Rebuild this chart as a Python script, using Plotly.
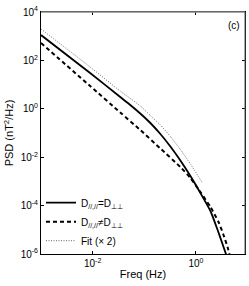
import plotly.graph_objects as go

# Data (Freq in Hz, PSD in nT^2/Hz)
freq_equal = [0.001, 0.00893, 0.0342, 0.0535, 0.0836, 0.131, 0.205, 0.320, 0.500, 0.782,
              1.22, 1.91, 2.61, 3.27, 3.91]
psd_equal = [1122, 30.1, 3.08, 1.44, 0.640, 0.259, 0.0910, 0.0277, 0.00731, 0.00167,
             3.32e-4, 5.98e-5, 1.03e-5, 2.59e-6, 8.59e-7]

freq_unequal = [0.001, 0.00893, 0.0342, 0.0836, 0.205, 0.500, 0.782, 1.22, 1.91, 2.74, 3.42, 4.09, 4.47]
psd_unequal = [524, 8.75, 0.703, 0.133, 0.0229, 0.00394, 0.00138, 3.65e-4, 8.75e-5, 2.10e-5,
               6.10e-6, 1.95e-6, 9.5e-7]

freq_fit = [0.001, 0.00893, 0.0342, 0.0836, 0.131, 0.205, 0.320, 0.500, 0.782, 1.34]
psd_fit = [1986, 53.4, 5.44, 1.31, 0.528, 0.214, 0.0716, 0.0208, 0.00524, 8.59e-4]

x_tickvals = [1e-2, 1e0]
x_ticktext = ["10<sup>-2</sup>", "10<sup>0</sup>"]
y_tickvals = [1e-6, 1e-4, 1e-2, 1e0, 1e2, 1e4]
y_ticktext = ["10<sup>-6</sup>", "10<sup>-4</sup>", "10<sup>-2</sup>", "10<sup>0</sup>", "10<sup>2</sup>", "10<sup>4</sup>"]

names = ["D<sub>//,//</sub>=D<sub>\u22a5\u22a5</sub>",
         "D<sub>//,//</sub>\u2260D<sub>\u22a5\u22a5</sub>",
         "Fit (\u00d7 2)"]

FONT = "Liberation Sans, Arial, sans-serif"

fig = go.Figure()
fig.add_trace(go.Scatter(x=freq_equal, y=psd_equal, mode="lines", name=names[0],
                         line=dict(color="black", width=1.8, shape="spline", smoothing=0.5)))
fig.add_trace(go.Scatter(x=freq_unequal, y=psd_unequal, mode="lines", name=names[1],
                         line=dict(color="black", width=2, dash="4px,3px", shape="spline", smoothing=0.5)))
fig.add_trace(go.Scatter(x=freq_fit, y=psd_fit, mode="lines", name=names[2],
                         line=dict(color="#666666", width=1, dash="1px,1.5px", shape="spline", smoothing=0.5)))

axis_common = dict(
    showline=True, linecolor="black", linewidth=1, mirror="ticks",
    ticks="inside", ticklen=3, tickcolor="black", showgrid=False, zeroline=False,
    tickfont=dict(family=FONT, size=10, color="black"),
)

fig.update_xaxes(type="log", range=[-3, 0.95], tickvals=x_tickvals, ticktext=x_ticktext,
                 title=dict(text="Freq (Hz)", font=dict(family=FONT, size=11, color="black"), standoff=2),
                 **axis_common)
fig.update_yaxes(type="log", range=[-6, 4], tickvals=y_tickvals, ticktext=y_ticktext,
                 title=dict(text="PSD (nT<sup>2</sup>/Hz)", font=dict(family=FONT, size=11, color="black"), standoff=4),
                 **axis_common)

# grey top/right frame as in the reference
fig.add_shape(type="line", xref="paper", yref="paper", x0=0, x1=1, y0=1, y1=1,
              line=dict(color="#8a8a8a", width=1.5))
fig.add_shape(type="line", xref="paper", yref="paper", x0=1, x1=1, y0=0, y1=1,
              line=dict(color="#555555", width=1))

fig.add_annotation(text="(c)", xref="paper", yref="paper", x=0.985, y=0.945,
                   xanchor="right", yanchor="middle", showarrow=False,
                   font=dict(family=FONT, size=10, color="black"))

fig.update_layout(
    width=249, height=286,
    margin=dict(l=41, r=4, t=12, b=32),
    paper_bgcolor="white", plot_bgcolor="white",
    font=dict(family=FONT, size=10, color="black"),
    legend=dict(x=0.0, y=0.272, xanchor="left", yanchor="top",
                bgcolor="rgba(0,0,0,0)", font=dict(family=FONT, size=10, color="black"),
                tracegroupgap=0, itemwidth=30),
    showlegend=True,
)

fig.write_html("out.html", config={"displayModeBar": False})

# remove the default page margin so the figure sits at the window's top-left
with open("out.html", "r", encoding="utf-8") as fh:
    html = fh.read()
html = html.replace("<head>", "<head><style>html,body{margin:0;padding:0;overflow:hidden;}</style>", 1)
with open("out.html", "w", encoding="utf-8") as fh:
    fh.write(html)
